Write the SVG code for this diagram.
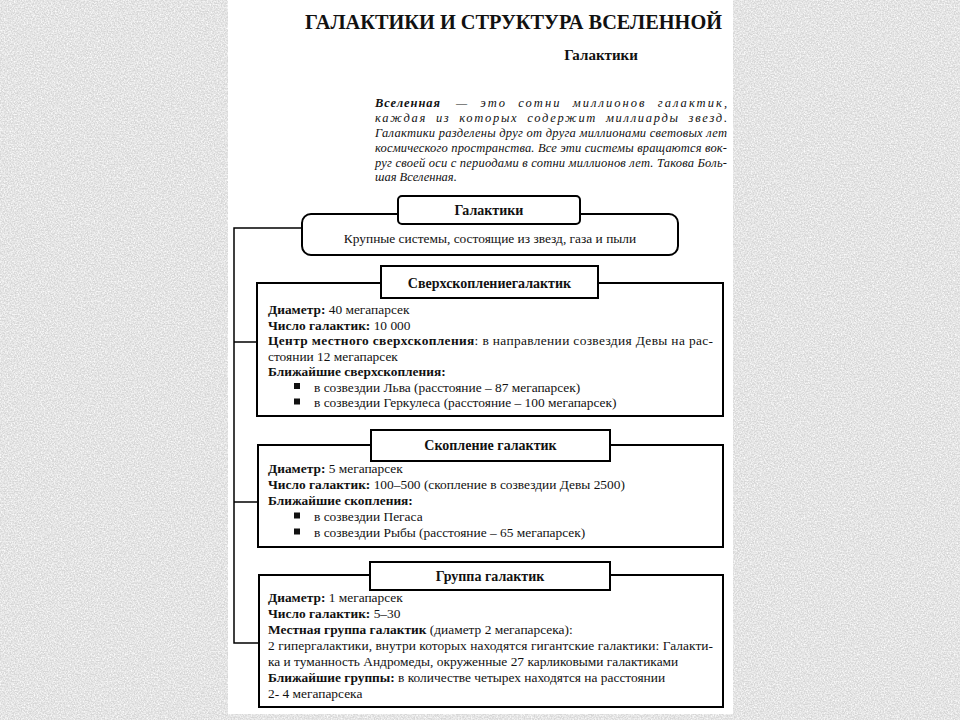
<svg xmlns="http://www.w3.org/2000/svg" width="960" height="720" viewBox="0 0 960 720">
<style>
  .serif { font-family: "Liberation Serif", "DejaVu Serif", serif; fill: #111; }
  .title { font-size: 21px; font-weight: bold; }
  .sub { font-size: 15px; font-weight: bold; }
  .para { font-family: "Liberation Serif", "DejaVu Serif", serif; font-size: 12.5px; font-style: italic; fill: #111; }
  .body { font-size: 13.4px; }
  .head { font-size: 14px; font-weight: bold; }
  .b { font-weight: bold; }
  .box { fill: #fff; stroke: #000; stroke-width: 2; }
  .conn { fill: none; stroke: #000; stroke-width: 1.5; }
  .bullet { fill: #111; }
</style>
<defs>
  <filter id="noise" x="0" y="0" width="100%" height="100%">
    <feTurbulence type="fractalNoise" baseFrequency="0.7" numOctaves="2" seed="7" result="t"/>
    <feColorMatrix type="matrix" values="0 0 0 0 1  0 0 0 0 1  0 0 0 0 1  1.8 0 0 0 -0.55"/>
  </filter>
</defs>

<!-- background -->
<rect x="0" y="0" width="960" height="720" fill="#d6d6d6"/>
<rect x="0" y="0" width="960" height="720" filter="url(#noise)"/>
<rect x="228" y="0" width="505" height="714" fill="#fff"/>

<!-- title -->
<text class="serif title" x="305" y="29" textLength="417" lengthAdjust="spacingAndGlyphs">ГАЛАКТИКИ И СТРУКТУРА ВСЕЛЕННОЙ</text>
<text class="serif sub" x="601" y="60" text-anchor="middle">Галактики</text>

<!-- paragraph -->
<g class="para">
  <text x="375" y="107" textLength="65" lengthAdjust="spacing" font-weight="bold">Вселенная</text>
  <text x="456" y="107" textLength="271" lengthAdjust="spacing" word-spacing="6">— это сотни миллионов галактик,</text>
  <text x="375" y="122" textLength="352" lengthAdjust="spacing" word-spacing="4">каждая из которых содержит миллиарды звезд.</text>
  <text x="375" y="137" textLength="352" lengthAdjust="spacing">Галактики разделены друг от друга миллионами световых лет</text>
  <text x="375" y="152" textLength="352" lengthAdjust="spacing">космического пространства. Все эти системы вращаются вок-</text>
  <text x="375" y="167" textLength="352" lengthAdjust="spacing">руг своей оси с периодами в сотни миллионов лет. Такова Боль-</text>
  <text x="375" y="181">шая Вселенная.</text>
</g>

<!-- connectors -->
<g id="connectors">
  <path class="conn" d="M302 228 H234 V643 H259"/>
  <path class="conn" d="M234 342 H257"/>
  <path class="conn" d="M234 502 H258"/>
</g>

<!-- node: Галактики -->
<g id="node-galaxies">
  <rect class="box" x="302" y="214" width="376" height="41" rx="9"/>
  <rect class="box" x="398" y="196" width="182" height="28" rx="4"/>
  <text class="serif head" x="489" y="215" text-anchor="middle">Галактики</text>
  <text class="serif body" x="490" y="243" text-anchor="middle" font-size="13">Крупные системы, состоящие из звезд, газа и пыли</text>
</g>

<!-- node: Сверхскопление -->
<g id="node-supercluster">
  <rect class="box" x="257" y="283" width="466" height="133"/>
  <rect class="box" x="381" y="266" width="217" height="32"/>
  <text class="serif head" x="489.5" y="288" text-anchor="middle" font-size="14.5">Сверхскоплениегалактик</text>
  <g class="serif body">
    <text x="268" y="314"><tspan class="b">Диаметр:</tspan> 40 мегапарсек</text>
    <text x="268" y="329.5"><tspan class="b">Число галактик:</tspan> 10 000</text>
    <text x="268" y="345" textLength="445" lengthAdjust="spacing"><tspan class="b">Центр местного сверхскопления</tspan>: в направлении созвездия Девы на рас-</text>
    <text x="268" y="360.5">стоянии 12 мегапарсек</text>
    <text x="268" y="376" class="b">Ближайшие сверхскопления:</text>
    <rect class="bullet" x="294" y="383" width="6" height="6"/>
    <text x="314" y="391.5">в созвездии Льва (расстояние – 87 мегапарсек)</text>
    <rect class="bullet" x="294" y="398.5" width="6" height="6"/>
    <text x="314" y="407">в созвездии Геркулеса (расстояние – 100 мегапарсек)</text>
  </g>
</g>

<!-- node: Скопление галактик -->
<g id="node-cluster">
  <rect class="box" x="258" y="445" width="465" height="102"/>
  <rect class="box" x="371" y="430" width="239" height="31"/>
  <text class="serif head" x="490.5" y="450" text-anchor="middle">Скопление галактик</text>
  <g class="serif body">
    <text x="268" y="473"><tspan class="b">Диаметр:</tspan> 5 мегапарсек</text>
    <text x="268" y="489"><tspan class="b">Число галактик:</tspan> 100–500 (скопление в созвездии Девы 2500)</text>
    <text x="268" y="505" class="b">Ближайшие скопления:</text>
    <rect class="bullet" x="294" y="512.5" width="6" height="6"/>
    <text x="314" y="521">в созвездии Пегаса</text>
    <rect class="bullet" x="294" y="528.5" width="6" height="6"/>
    <text x="314" y="537">в созвездии Рыбы (расстояние – 65 мегапарсек)</text>
  </g>
</g>

<!-- node: Группа галактик -->
<g id="node-group">
  <rect class="box" x="259" y="575" width="464" height="132"/>
  <rect class="box" x="370" y="562" width="240" height="28"/>
  <text class="serif head" x="490" y="581" text-anchor="middle">Группа галактик</text>
  <g class="serif body">
    <text x="268" y="602"><tspan class="b">Диаметр:</tspan> 1 мегапарсек</text>
    <text x="268" y="618"><tspan class="b">Число галактик:</tspan> 5–30</text>
    <text x="268" y="634"><tspan class="b">Местная группа галактик</tspan> (диаметр 2 мегапарсека):</text>
    <text x="268" y="650" textLength="445" lengthAdjust="spacing">2 гипергалактики, внутри которых находятся гигантские галактики: Галакти-</text>
    <text x="268" y="666">ка и туманность Андромеды, окруженные 27 карликовыми галактиками</text>
    <text x="268" y="682"><tspan class="b">Ближайшие группы:</tspan> в количестве четырех находятся на расстоянии</text>
    <text x="268" y="698">2- 4 мегапарсека</text>
  </g>
</g>
</svg>
